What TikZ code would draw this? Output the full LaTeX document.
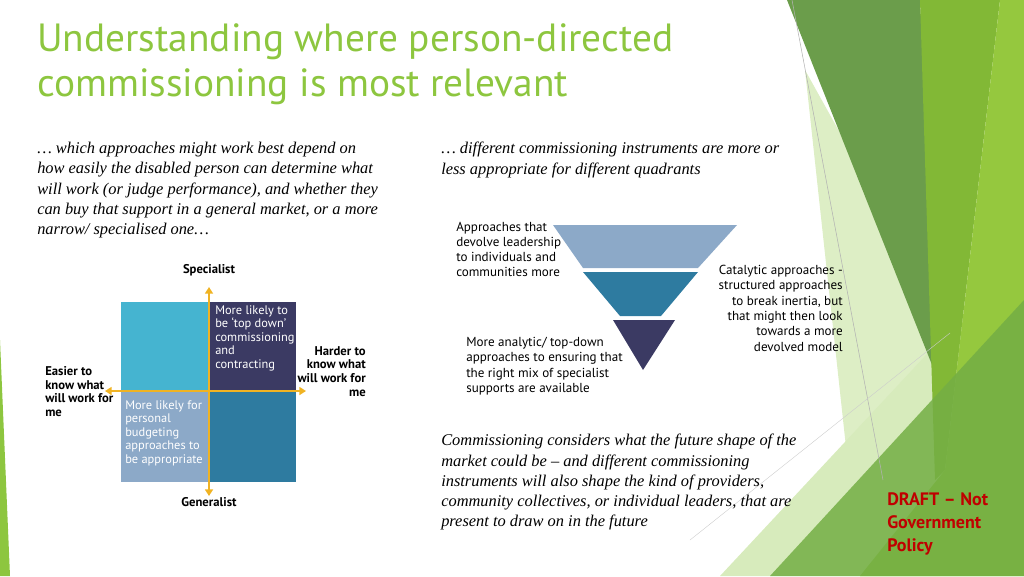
\documentclass[tikz,border=0pt]{standalone}
\usepackage{fontspec}
\setmainfont{Liberation Serif}
\newfontfamily\tah{PT Sans}
\newfontfamily\ttl{PT Sans}
\usetikzlibrary{positioning,calc,arrows.meta}
\definecolor{lime}{HTML}{8DC63F}
\definecolor{gdark}{HTML}{6B9D4B}
\definecolor{gmid}{HTML}{82B836}
\definecolor{glight}{HTML}{95C83E}
\definecolor{gband}{HTML}{74AE45}
\definecolor{qcyan}{HTML}{45B4D0}
\definecolor{qnavy}{HTML}{3B3A63}
\definecolor{qsteel}{HTML}{8CA9C8}
\definecolor{qteal}{HTML}{2E7BA0}
\definecolor{axis}{HTML}{F0B323}
\definecolor{draftred}{HTML}{C00000}
\tikzset{
  small/.style={font=\tah\fontsize{9.3}{10.2}\selectfont, inner sep=0pt},
  para/.style={font=\itshape\fontsize{12.3}{15.2}\selectfont, inner sep=0pt, anchor=north west, align=left},
  axisarrow/.style={axis, line width=1.4pt, {Triangle[length=5pt,width=6pt]}-{Triangle[length=5pt,width=6pt]}}
}
\begin{document}
\begin{tikzpicture}[x=0.75pt,y=-0.75pt]
\useasboundingbox (0,0) rectangle (1024,576);

% green decoration at the right
\fill[lime!30] (805,70) -- (1000,420) -- (940,576) -- (860,576) -- cycle;
\fill[lime!35] (720,576) -- (1024,250) -- (1024,576) -- cycle;
\fill[gdark] (787,0) -- (920,0) -- (940,385) -- cycle;
\fill[gmid] (920,0) -- (1000,0) -- (945,470) -- (935,480) -- cycle;
\fill[glight] (1000,0) -- (1024,0) -- (1024,576) -- (860,576) -- (945,470) -- cycle;
\fill[gband, opacity=0.85] (770,576) -- (1024,300) -- (1024,576) -- cycle;
\fill[lime] (0,340) -- (10,576) -- (0,576) -- cycle;
\draw[gray!60, line width=0.4pt] (792,0) -- (883,480);
\draw[gray!40, line width=0.3pt] (690,540) -- (950,333);

% title
\node[anchor=north west, align=left, text=lime, inner sep=0pt,
  font=\ttl\fontsize{29.5}{34}\selectfont] (title) at (37,23)
  {Understanding where person-directed\\commissioning is most relevant};

% paragraphs
\node[para] (left) at (37,142) {\dots\ which approaches might work best depend on\\how easily the disabled person can determine what\\will work (or judge performance), and whether they\\can buy that support in a general market, or a more\\narrow/ specialised one\dots};
\node[para] (right) at (441,142) {\dots\ different commissioning instruments are more or\\less appropriate for different quadrants};
\node[para] (bottom) at (441,434) {Commissioning considers what the future shape of the\\market could be – and different commissioning\\instruments will also shape the kind of providers,\\community collectives, or individual leaders, that are\\present to draw on in the future};

% quadrants
\coordinate (q0) at (209,392);
\fill[qcyan]  (121,302) rectangle (q0);
\fill[qnavy]  (209,302) rectangle (296,392);
\fill[qsteel] (121,392) rectangle (209,482);
\fill[qteal]  (q0) rectangle (296,482);
\coordinate (ax1) at (105,391);
\coordinate (ax2) at (306,391);
\coordinate (ay1) at (209,287);
\coordinate (ay2) at (209,496);
\draw[axisarrow] (ax1) -- (ax2);
\draw[axisarrow] (ay1) -- (ay2);

\node[small, text=white, anchor=north west, align=left] (tr) at (215,305)
  {More likely to\\be ‘top down’\\commissioning\\and\\contracting};
\node[small, text=white, anchor=north west, align=left] (bl) at (125,400)
  {More likely for\\personal\\budgeting\\approaches to\\be appropriate};
\node[small, font=\tah\bfseries\fontsize{9.5}{10.3}\selectfont] (spec) at (209,270) {Specialist};
\node[small, font=\tah\bfseries\fontsize{9.5}{10.3}\selectfont] (gen) at (209,502) {Generalist};
\node[small, font=\tah\bfseries\fontsize{9.5}{10.3}\selectfont, anchor=north west, align=left] (easy) at (45,366)
  {Easier to\\know what\\will work for\\me};
\node[small, font=\tah\bfseries\fontsize{9.5}{10.3}\selectfont, anchor=north east, align=right] (hard) at (366,346)
  {Harder to\\know what\\will work for\\me};

% funnel
\fill[qsteel] (553,225) -- (737,225) -- (698,268) -- (583,268) -- cycle;
\fill[qteal]  (583,272) -- (698,272) -- (661,316) -- (620,316) -- cycle;
\fill[qnavy]  (613,320) -- (675,320) -- (643,370) -- cycle;

\node[small, font=\tah\fontsize{9.8}{11.3}\selectfont, anchor=north west, align=left] (devolve) at (456,222)
  {Approaches that\\devolve leadership\\to individuals and\\communities more};
\node[small, font=\tah\fontsize{9.8}{11.5}\selectfont, anchor=north east, align=right] (cata) at (843,265)
  {Catalytic approaches -\\structured approaches\\to break inertia, but\\that might then look\\towards a more\\devolved model};
\node[small, font=\tah\fontsize{9.8}{11.5}\selectfont, anchor=north west, align=left] (analytic) at (466,337)
  {More analytic/ top-down\\approaches to ensuring that\\the right mix of specialist\\supports are available};

% draft note
\node[anchor=north west, align=left, inner sep=0pt, text=draftred,
  font=\tah\bfseries\fontsize{13.5}{17.5}\selectfont] (draft) at (887,492)
  {DRAFT – Not\\Government\\Policy};
\end{tikzpicture}
\end{document}
